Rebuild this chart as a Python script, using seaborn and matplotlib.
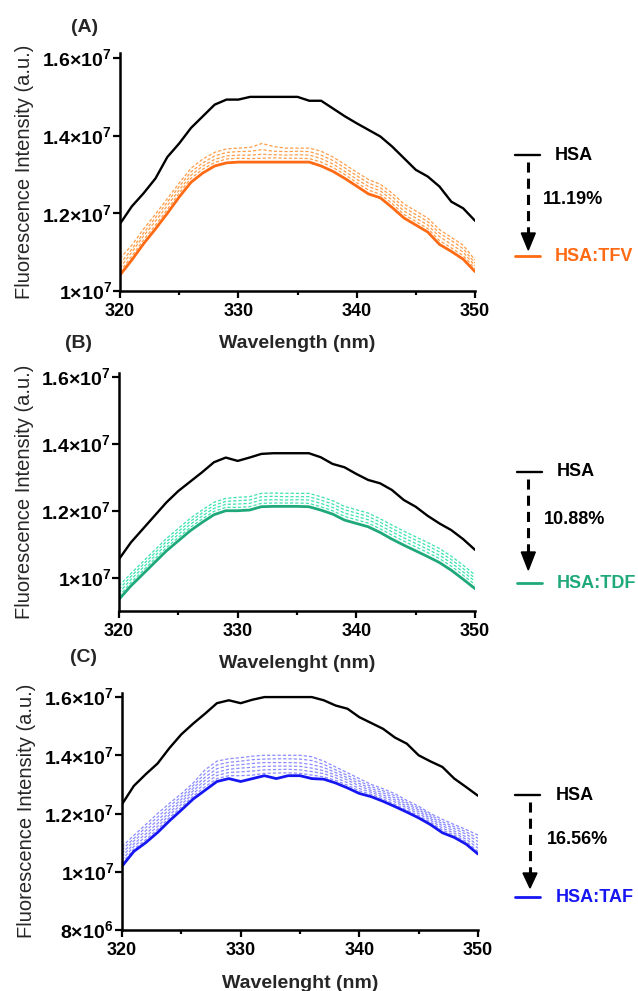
import numpy as np
import matplotlib
matplotlib.use("Agg")
import matplotlib.pyplot as plt
import seaborn as sns
from matplotlib.lines import Line2D
from matplotlib.patches import Polygon
from matplotlib.ticker import MultipleLocator

# ---------------- data (intensities in units of 1e6 a.u.) ----------------
wavelength = np.arange(320, 351)

hsa_a = [11.73, 12.18, 12.52, 12.90, 13.45, 13.80, 14.20, 14.50, 14.80, 14.93, 14.93,
         15.00, 15.00, 15.00, 15.00, 15.00, 14.90, 14.90, 14.70, 14.50, 14.32, 14.15,
         13.98, 13.72, 13.42, 13.12, 12.95, 12.69, 12.30, 12.13, 11.81]
tfv_final = [10.41, 10.80, 11.22, 11.60, 12.00, 12.42, 12.80, 13.04, 13.22, 13.30, 13.32,
             13.32, 13.32, 13.32, 13.32, 13.32, 13.32, 13.22, 13.08, 12.90, 12.70, 12.50,
             12.40, 12.15, 11.88, 11.70, 11.52, 11.20, 11.02, 10.82, 10.50]
tfv_steps = [
    [10.50, 10.90, 11.32, 11.70, 12.10, 12.52, 12.90, 13.14, 13.31, 13.40, 13.42, 13.41,
     13.42, 13.43, 13.42, 13.42, 13.41, 13.32, 13.18, 13.00, 12.79, 12.60, 12.49, 12.25,
     11.97, 11.79, 11.61, 11.30, 11.11, 10.91, 10.58],
    [10.60, 11.00, 11.42, 11.80, 12.20, 12.60, 12.98, 13.22, 13.39, 13.48, 13.50, 13.50,
     13.52, 13.51, 13.50, 13.51, 13.50, 13.41, 13.27, 13.08, 12.88, 12.69, 12.58, 12.34,
     12.06, 11.88, 11.70, 11.40, 11.20, 11.00, 10.65],
    [10.70, 11.08, 11.50, 11.89, 12.29, 12.69, 13.07, 13.30, 13.48, 13.57, 13.59, 13.60,
     13.64, 13.60, 13.59, 13.60, 13.59, 13.50, 13.36, 13.17, 12.97, 12.78, 12.66, 12.43,
     12.15, 11.97, 11.79, 11.49, 11.30, 11.09, 10.72],
    [10.84, 11.18, 11.60, 11.98, 12.38, 12.78, 13.16, 13.40, 13.57, 13.66, 13.68, 13.70,
     13.80, 13.72, 13.68, 13.68, 13.68, 13.60, 13.45, 13.26, 13.06, 12.87, 12.75, 12.52,
     12.24, 12.06, 11.88, 11.58, 11.38, 11.18, 10.80],
]

hsa_b = [10.55, 11.05, 11.45, 11.85, 12.25, 12.59, 12.87, 13.15, 13.45, 13.59, 13.49,
         13.59, 13.70, 13.72, 13.72, 13.72, 13.72, 13.60, 13.40, 13.30, 13.10, 12.92,
         12.82, 12.62, 12.32, 12.12, 11.85, 11.62, 11.42, 11.15, 10.83]
tdf_final = [9.35, 9.75, 10.10, 10.45, 10.80, 11.10, 11.40, 11.65, 11.88, 12.00, 12.00,
             12.02, 12.12, 12.13, 12.13, 12.13, 12.12, 12.02, 11.90, 11.72, 11.62, 11.52,
             11.35, 11.15, 10.97, 10.80, 10.63, 10.45, 10.22, 9.95, 9.67]
tdf_steps = [
    [9.45, 9.85, 10.20, 10.55, 10.90, 11.20, 11.50, 11.75, 11.98, 12.10, 12.10, 12.12,
     12.22, 12.23, 12.23, 12.23, 12.22, 12.12, 12.00, 11.83, 11.73, 11.63, 11.46, 11.27,
     11.09, 10.92, 10.75, 10.57, 10.34, 10.07, 9.79],
    [9.55, 9.94, 10.29, 10.64, 10.99, 11.29, 11.59, 11.84, 12.07, 12.19, 12.20, 12.22,
     12.32, 12.33, 12.32, 12.33, 12.32, 12.22, 12.10, 11.93, 11.83, 11.73, 11.56, 11.37,
     11.19, 11.02, 10.85, 10.67, 10.44, 10.17, 9.89],
    [9.65, 10.03, 10.38, 10.73, 11.08, 11.38, 11.68, 11.93, 12.16, 12.28, 12.30, 12.32,
     12.42, 12.43, 12.42, 12.42, 12.42, 12.32, 12.20, 12.03, 11.93, 11.83, 11.66, 11.47,
     11.29, 11.12, 10.95, 10.77, 10.54, 10.27, 9.98],
    [9.75, 10.12, 10.47, 10.82, 11.17, 11.47, 11.77, 12.02, 12.25, 12.37, 12.40, 12.42,
     12.52, 12.53, 12.52, 12.52, 12.52, 12.42, 12.30, 12.13, 12.03, 11.93, 11.76, 11.57,
     11.39, 11.22, 11.05, 10.87, 10.64, 10.37, 10.08],
]

hsa_c = [12.32, 12.95, 13.35, 13.72, 14.25, 14.72, 15.09, 15.43, 15.79, 15.89, 15.79,
         15.91, 16.00, 16.00, 16.00, 16.00, 16.00, 15.89, 15.71, 15.60, 15.31, 15.11,
         14.91, 14.61, 14.40, 14.00, 13.79, 13.60, 13.20, 12.91, 12.61]
taf_final = [10.19, 10.70, 11.00, 11.35, 11.75, 12.12, 12.50, 12.80, 13.10, 13.20, 13.10,
             13.20, 13.30, 13.20, 13.30, 13.30, 13.20, 13.18, 13.05, 12.88, 12.69, 12.58,
             12.42, 12.24, 12.05, 11.85, 11.62, 11.34, 11.18, 10.95, 10.61]
taf_steps = [
    [10.30, 10.78, 11.10, 11.46, 11.86, 12.22, 12.60, 12.92, 13.20, 13.30, 13.30, 13.32,
     13.38, 13.39, 13.40, 13.38, 13.32, 13.26, 13.14, 12.97, 12.78, 12.66, 12.50, 12.32,
     12.12, 11.93, 11.70, 11.43, 11.26, 11.04, 10.70],
    [10.41, 10.87, 11.20, 11.56, 11.95, 12.31, 12.69, 13.03, 13.31, 13.41, 13.43, 13.46,
     13.50, 13.51, 13.52, 13.50, 13.44, 13.37, 13.23, 13.06, 12.86, 12.73, 12.57, 12.40,
     12.19, 12.00, 11.77, 11.50, 11.33, 11.12, 10.81],
    [10.52, 10.96, 11.30, 11.66, 12.04, 12.40, 12.78, 13.14, 13.42, 13.52, 13.56, 13.59,
     13.62, 13.63, 13.63, 13.62, 13.56, 13.47, 13.32, 13.15, 12.95, 12.79, 12.64, 12.47,
     12.25, 12.07, 11.83, 11.58, 11.40, 11.20, 10.92],
    [10.63, 11.06, 11.41, 11.77, 12.14, 12.49, 12.87, 13.25, 13.54, 13.64, 13.68, 13.72,
     13.75, 13.75, 13.75, 13.74, 13.68, 13.58, 13.41, 13.23, 13.03, 12.86, 12.71, 12.54,
     12.32, 12.13, 11.89, 11.65, 11.48, 11.29, 11.04],
    [10.75, 11.15, 11.52, 11.88, 12.25, 12.58, 12.96, 13.37, 13.67, 13.76, 13.80, 13.85,
     13.87, 13.88, 13.88, 13.87, 13.82, 13.69, 13.50, 13.31, 13.11, 12.93, 12.78, 12.61,
     12.38, 12.19, 11.95, 11.72, 11.55, 11.37, 11.15],
    [10.86, 11.25, 11.62, 12.00, 12.35, 12.68, 13.05, 13.50, 13.80, 13.88, 13.92, 13.97,
     14.00, 14.00, 14.00, 14.00, 13.95, 13.80, 13.60, 13.40, 13.20, 13.00, 12.85, 12.68,
     12.45, 12.25, 12.00, 11.80, 11.62, 11.45, 11.26],
]

xticks = [320, 330, 340, 350]
yticks_ab = [1.0e7, 1.2e7, 1.4e7, 1.6e7]
ytick_labels_ab = [r"1×10$^{\mathbf{7}}$", r"1.2×10$^{\mathbf{7}}$",
                   r"1.4×10$^{\mathbf{7}}$", r"1.6×10$^{\mathbf{7}}$"]
yticks_c = [8e6, 1.0e7, 1.2e7, 1.4e7, 1.6e7]
ytick_labels_c = [r"8×10$^{\mathbf{6}}$", r"1×10$^{\mathbf{7}}$", r"1.2×10$^{\mathbf{7}}$",
                  r"1.4×10$^{\mathbf{7}}$", r"1.6×10$^{\mathbf{7}}$"]

panel_letters = ["(A)", "(B)", "(C)"]
xlabels = ["Wavelength (nm)", "Wavelenght (nm)", "Wavelenght (nm)"]
ylabel = "Fluorescence Intensity (a.u.)"
drug_names = ["HSA:TFV", "HSA:TDF", "HSA:TAF"]
quench_pct = ["11.19%", "10.88%", "16.56%"]

SCALE = 1e6

# ---------------- styling ----------------
sns.set_style("ticks")
plt.rcParams["font.family"] = ["Liberation Sans", "DejaVu Sans"]
plt.rcParams["mathtext.fontset"] = "custom"
plt.rcParams["mathtext.rm"] = "Liberation Sans"
plt.rcParams["mathtext.bf"] = "Liberation Sans:bold"

W, H = 638, 991
fig = plt.figure(figsize=(W / 100, H / 100), dpi=100)


def fx(px):
    return px / W


def fy(py):
    return 1 - py / H


def rect(left, right, top, bottom):
    return [fx(left), fy(bottom), (right - left) / W, (bottom - top) / H]


solid_colors = ["#FF6A14", "#1FA97B", "#1616F2"]
step_colors = ["#FF9E4A", "#3FE3B0", "#8C8CFF"]

panels = [
    dict(rect=rect(120, 475, 53, 291), ylim=(10e6, 16.13e6), hsa=hsa_a, final=tfv_final,
         steps=tfv_steps, yt=yticks_ab, ytl=ytick_labels_ab),
    dict(rect=rect(119, 475, 373, 611), ylim=(9e6, 16.12e6), hsa=hsa_b, final=tdf_final,
         steps=tdf_steps, yt=yticks_ab, ytl=ytick_labels_ab),
    dict(rect=rect(122, 478, 693, 930), ylim=(8e6, 16.14e6), hsa=hsa_c, final=taf_final,
         steps=taf_steps, yt=yticks_c, ytl=ytick_labels_c),
]

for i, p in enumerate(panels):
    ax = fig.add_axes(p["rect"])
    for s in p["steps"]:
        sns.lineplot(x=wavelength, y=np.array(s) * SCALE, ax=ax, color=step_colors[i],
                     linewidth=0.9, linestyle=(0, (2.6, 1.6)))
    sns.lineplot(x=wavelength, y=np.array(p["final"]) * SCALE, ax=ax,
                 color=solid_colors[i], linewidth=2.0)
    sns.lineplot(x=wavelength, y=np.array(p["hsa"]) * SCALE, ax=ax,
                 color="black", linewidth=1.7)

    ax.set_xlim(320, 350)
    ax.set_ylim(*p["ylim"])
    ax.set_xticks(xticks)
    ax.set_xticklabels([str(t) for t in xticks], fontsize=13, fontweight="bold")
    ax.xaxis.set_minor_locator(MultipleLocator(5))
    ax.set_yticks(p["yt"])
    ax.set_yticklabels(p["ytl"], fontsize=14, fontweight="bold")
    ax.set_xlabel("")
    ax.set_ylabel("")
    for side in ["top", "right"]:
        ax.spines[side].set_visible(False)
    for side in ["left", "bottom"]:
        ax.spines[side].set_linewidth(1.8)
        ax.spines[side].set_color("black")
    ax.tick_params(axis="both", which="major", length=5, width=1.6, color="black",
                   labelcolor="black")
    ax.tick_params(axis="x", which="major", pad=3.5)
    ax.tick_params(axis="y", which="major", pad=1)
    ax.tick_params(axis="x", which="minor", length=3, width=1.6, color="black")

# panel letters, axis titles
letter_pos = [(85, 28), (78, 343), (83, 657)]
for (x, y), t in zip(letter_pos, panel_letters):
    fig.text(fx(x), fy(y), t, fontsize=14, fontweight="bold", ha="center", va="center")

xlabel_pos = [(297, 344), (297, 664), (300, 983)]
for (x, y), t in zip(xlabel_pos, xlabels):
    fig.text(fx(x), fy(y), t, fontsize=14, fontweight="bold", ha="center", va="center")

ylabel_pos = [(25, 172), (25, 492), (26.5, 811)]
for (x, y) in ylabel_pos:
    fig.text(fx(x), fy(y), ylabel, fontsize=14.5, rotation=90, ha="center", va="center")

# side keys: HSA -> HSA:drug with quenching percentage
keys = [
    dict(top=155, bottom=256, arrow_x=528.3, dash_end=233, tip=250, pct_x=543, pct_y=200,
         line_x=515, text_x=555),
    dict(top=472, bottom=583, arrow_x=528.3, dash_end=552, tip=570, pct_x=544, pct_y=520,
         line_x=517, text_x=556.5),
    dict(top=795, bottom=897, arrow_x=530, dash_end=873, tip=888, pct_x=546.5, pct_y=840,
         line_x=515, text_x=556),
]
for i, k in enumerate(keys):
    fig.add_artist(Line2D([fx(k["line_x"]), fx(k["line_x"] + 25)], [fy(k["top"])] * 2,
                          color="black", linewidth=1.7))
    fig.text(fx(k["text_x"]), fy(k["top"]), "HSA", fontsize=13, fontweight="bold",
             ha="left", va="center", color="black")
    fig.add_artist(Line2D([fx(k["line_x"]), fx(k["line_x"] + 25)], [fy(k["bottom"])] * 2,
                          color=solid_colors[i], linewidth=2.0))
    fig.text(fx(k["text_x"]), fy(k["bottom"]), drug_names[i], fontsize=13,
             fontweight="bold", ha="left", va="center", color=solid_colors[i])
    fig.add_artist(Line2D([fx(k["arrow_x"])] * 2, [fy(k["top"] + 7), fy(k["dash_end"])],
                          color="black", linewidth=2.2, linestyle=(0, (3.3, 2.0))))
    fig.add_artist(Polygon([[fx(k["arrow_x"] - 7), fy(k["dash_end"])],
                            [fx(k["arrow_x"] + 7), fy(k["dash_end"])],
                            [fx(k["arrow_x"]), fy(k["tip"])]],
                           closed=True, facecolor="black", edgecolor="black",
                           transform=fig.transFigure))
    fig.text(fx(k["pct_x"]), fy(k["pct_y"]), quench_pct[i], fontsize=13,
             fontweight="bold", ha="left", va="center", color="black")

fig.savefig("out.png", dpi=100, facecolor="white")
